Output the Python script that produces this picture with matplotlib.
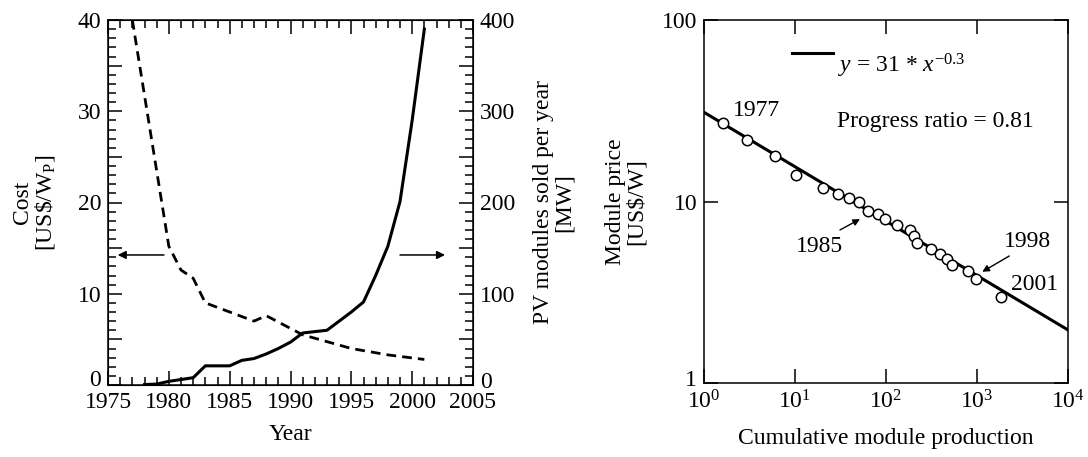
import math
import matplotlib
matplotlib.use("Agg")
import matplotlib.pyplot as plt
from matplotlib.ticker import MultipleLocator, FixedLocator, FuncFormatter
from matplotlib.transforms import ScaledTranslation
from matplotlib.legend_handler import HandlerLine2D

plt.rcParams['font.family'] = ['Liberation Serif', 'DejaVu Serif']
plt.rcParams['mathtext.fontset'] = 'custom'
plt.rcParams['mathtext.rm'] = 'Liberation Serif'
plt.rcParams['mathtext.it'] = 'Liberation Serif:italic'
plt.rcParams['font.size'] = 17

# left panel: module cost (dashed, left axis) and yearly sales (solid, right axis)
cost_years = [1977, 1980, 1981, 1982, 1983, 1985, 1987, 1988, 1991, 1995, 1998, 2001]
cost = [40.0, 15.2, 12.6, 11.7, 9.0, 8.0, 7.0, 7.6, 5.5, 4.0, 3.3, 2.8]

sales_years = [1978, 1979, 1980, 1981, 1982, 1983, 1985, 1986, 1987, 1988, 1989, 1990,
               1991, 1993, 1994, 1995, 1996, 1997, 1998, 1999, 2000, 2001]
sales = [0.5, 1, 4, 6, 8, 21, 21, 27, 29, 34, 40, 47,
         57, 60, 70, 80, 91, 120, 152, 201, 290, 390]

# right panel: learning curve
cum_prod = [1.63, 2.96, 6.08, 10.3, 20.3, 29.8, 39.5, 50.2, 63.8, 81.1, 98.7, 131,
            183, 204, 221, 316, 388, 472, 528, 802, 985, 1855]
price = [27.0, 21.8, 17.8, 14.0, 11.9, 11.05, 10.4, 9.98, 8.86, 8.5, 7.97, 7.39,
         6.96, 6.45, 5.93, 5.49, 5.17, 4.80, 4.48, 4.13, 3.75, 2.97]
fit_x = [1, 10000]
fit_y = [31.0, 1.96]


class RaisedLine(HandlerLine2D):
    # legend line sits a bit above the middle of the text in the reference
    def create_artists(self, legend, orig_handle, xdescent, ydescent, width,
                       height, fontsize, trans):
        return super().create_artists(legend, orig_handle, xdescent,
                                      ydescent - 1.0 * fontsize, width, height,
                                      fontsize, trans)


fig = plt.figure(figsize=(10.88, 4.57), dpi=100)
W, H = 1088, 457

def add_ax(x0, y0, x1, y1):
    return fig.add_axes([x0 / W, (H - y1) / H, (x1 - x0) / W, (y1 - y0) / H])

ax = add_ax(108, 20, 473, 385)
ax2 = ax.twinx()

ax.plot(cost_years, cost, color='black', lw=2.0, ls=(0, (3.5, 2.2)))
ax2.plot(sales_years, sales, color='black', lw=2.2)

ax.set_xlim(1975, 2005)
ax.set_ylim(0, 40)
ax2.set_ylim(0, 400)

ax.xaxis.set_major_locator(MultipleLocator(5))
ax.xaxis.set_minor_locator(MultipleLocator(1))
ax.yaxis.set_major_locator(MultipleLocator(5))
ax.yaxis.set_minor_locator(MultipleLocator(1))
ax.yaxis.set_major_formatter(FuncFormatter(lambda v, p: "%d" % v if v % 10 == 0 else ""))
ax2.yaxis.set_major_locator(MultipleLocator(50))
ax2.yaxis.set_minor_locator(MultipleLocator(10))
ax2.yaxis.set_major_formatter(FuncFormatter(lambda v, p: "%d" % v if v % 100 == 0 else ""))

ax.tick_params(which='both', direction='in', top=True, right=False, width=1.1)
ax.tick_params(which='major', length=10, pad=5)
ax.tick_params(which='minor', length=6)
ax2.tick_params(which='both', direction='in', width=1.1)
ax2.tick_params(which='major', length=10, pad=5)
ax2.tick_params(which='minor', length=6)
for s in ax.spines.values():
    s.set_linewidth(1.1)

ax.set_xlabel("Year")
ax.xaxis.set_label_coords(0.5, -0.108)
ax.set_ylabel("Cost\n[US\\$/W$_\\mathrm{P}$]", linespacing=1.0)
ax.yaxis.set_label_coords(-0.14, 0.5)
ax2.set_ylabel("PV modules sold per year\n[MW]", linespacing=1.0)
ax2.yaxis.set_label_coords(1.165, 0.5)

ax.annotate("", xy=(1975.8, 14.25), xytext=(1979.6, 14.25),
            arrowprops=dict(arrowstyle='-|>', color='black', lw=1.1,
                            mutation_scale=12, shrinkA=0, shrinkB=0))
ax.annotate("", xy=(2002.7, 14.25), xytext=(1999.0, 14.25),
            arrowprops=dict(arrowstyle='-|>', color='black', lw=1.1,
                            mutation_scale=12, shrinkA=0, shrinkB=0))

# right panel
bx = add_ax(704, 20, 1068, 383)
bx.set_xscale('log')
bx.set_yscale('log')
fit_line, = bx.plot(fit_x, fit_y, color='black', lw=2.2, label=r"$y$ = 31 * $x^{-0.3}$")
bx.plot(cum_prod, price, 'o', ms=7.5, mfc='white', mec='black', mew=1.1)
bx.set_xlim(1, 10000)
bx.set_ylim(1, 100)
bx.xaxis.set_major_locator(FixedLocator([1, 10, 100, 1000, 10000]))
bx.xaxis.set_minor_locator(FixedLocator([]))
bx.yaxis.set_major_locator(FixedLocator([1, 10, 100]))
bx.yaxis.set_minor_locator(FixedLocator([]))
bx.xaxis.set_major_formatter(FuncFormatter(lambda v, p: r"$10^{%d}$" % round(math.log10(v))))
bx.yaxis.set_major_formatter(FuncFormatter(lambda v, p: "%d" % v))
bx.tick_params(which='both', direction='in', top=True, right=True, width=1.1, length=10, pad=5)
for s in bx.spines.values():
    s.set_linewidth(1.1)

bx.set_xlabel("Cumulative module production")
bx.xaxis.set_label_coords(0.5, -0.125)
bx.set_ylabel("Module price\n[US\\$/W]", linespacing=1.0)
bx.yaxis.set_label_coords(-0.157, 0.5)

bx.legend(loc='upper left', bbox_to_anchor=(0.242, 0.912), frameon=False,
          borderpad=0, borderaxespad=0, handlelength=1.75, handletextpad=0.2,
          handler_map={fit_line: RaisedLine()})
bx.text(0.365, 0.72, "Progress ratio = 0.81", transform=bx.transAxes,
        ha='left', va='center')
bx.text(0.143, 0.752, "1977", transform=bx.transAxes, ha='center', va='center')
bx.text(0.908, 0.27, "2001", transform=bx.transAxes, ha='center', va='center')
bx.text(0.316, 0.377, "1985", transform=bx.transAxes, ha='center', va='center')
bx.text(0.89, 0.389, "1998", transform=bx.transAxes, ha='center', va='center')
bx.annotate("", xy=(51.8, 8.0), xytext=(31.2, 6.97),
            arrowprops=dict(arrowstyle='-|>', color='black', lw=1.0,
                            mutation_scale=10, shrinkA=0, shrinkB=0))
bx.annotate("", xy=(1143, 4.10), xytext=(2264, 5.01),
            arrowprops=dict(arrowstyle='-|>', color='black', lw=1.0,
                            mutation_scale=10, shrinkA=0, shrinkB=0))

# lift the lowest y labels a little so they clear the x labels below them
fig.canvas.draw()

def lift(axis, loc, label_attr, dy):
    for t in axis.get_major_ticks():
        if abs(t.get_loc() - loc) < 1e-9:
            lab = getattr(t, label_attr)
            lab.set_transform(lab.get_transform()
                              + ScaledTranslation(0, dy, fig.dpi_scale_trans))

lift(ax.yaxis, 0, 'label1', 0.07)
lift(ax2.yaxis, 0, 'label2', 0.05)
lift(bx.yaxis, 1, 'label1', 0.05)

fig.savefig("out.png", dpi=100)
